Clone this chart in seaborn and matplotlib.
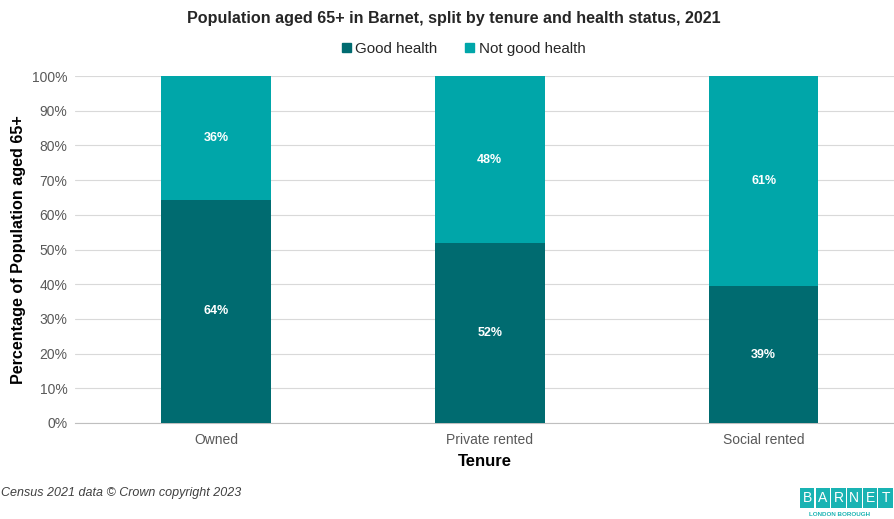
import numpy as np
import pandas as pd
import matplotlib
matplotlib.use("Agg")
import matplotlib.pyplot as plt
import seaborn as sns
from matplotlib.patches import Patch, Rectangle

tenure = ["Owned", "Private rented", "Social rented"]
good_health = [64.4, 51.8, 39.4]
not_good_health = [35.6, 48.2, 60.6]

dark_teal = "#006B70"
light_teal = "#00A6A9"

sns.set_style("white")
plt.rcParams['font.family'] = ['Liberation Sans', 'DejaVu Sans']

df = pd.DataFrame({'tenure': tenure, 'good': good_health, 'not_good': not_good_health})
df['total'] = df['good'] + df['not_good']

fig = plt.figure(figsize=(8.95, 5.19), dpi=100)
ax = fig.add_axes([75 / 895, 1 - 423 / 519, 820 / 895, 347 / 519])

sns.barplot(data=df, x='tenure', y='total', color=light_teal, width=0.40,
            saturation=1, linewidth=0, ax=ax, zorder=2)
sns.barplot(data=df, x='tenure', y='good', color=dark_teal, width=0.40,
            saturation=1, linewidth=0, ax=ax, zorder=3)

for i, (g, n) in enumerate(zip(good_health, not_good_health)):
    ax.text(i, g / 2, f'{round(g)}%', ha='center', va='center',
            color='white', fontsize=9, fontweight='bold', zorder=4)
    ax.text(i, g + n / 2, f'{round(n)}%', ha='center', va='center',
            color='white', fontsize=9, fontweight='bold', zorder=4)

ax.set_xlim(-0.515, 2.48)
ax.set_ylim(0, 100)
ax.set_yticks(np.arange(0, 101, 10))
ax.set_yticklabels([f'{v}%' for v in range(0, 101, 10)])
ax.yaxis.grid(True, color='#d9d9d9', linewidth=0.8, zorder=0)
ax.set_axisbelow(True)
for s in ['top', 'right', 'left']:
    ax.spines[s].set_visible(False)
ax.spines['bottom'].set_color('#bfbfbf')
ax.tick_params(axis='both', length=0, labelsize=10, colors='#595959')
ax.tick_params(axis='y', pad=5.5)
ax.tick_params(axis='x', pad=7)

ax.set_xlabel('Tenure', fontsize=12, fontweight='bold', color='black', labelpad=5)
ax.set_ylabel('Percentage of Population aged 65+', fontsize=11.6, fontweight='bold',
              color='black', labelpad=4)

fig.text(0.507, 1 - 18 / 519, 'Population aged 65+ in Barnet, split by tenure and health status, 2021',
         ha='center', va='center', fontsize=11.6, fontweight='bold')

handles = [Patch(color=dark_teal, label='Good health'),
           Patch(color=light_teal, label='Not good health')]
fig.legend(handles=handles, loc='center', bbox_to_anchor=(0.518, 1 - 49 / 519), ncol=2,
           frameon=False, fontsize=10.9, handlelength=0.6, handleheight=0.6,
           handletextpad=0.3, columnspacing=1.8)

fig.text(1 / 895, 1 - 493 / 519, 'Census 2021 data \u00a9 Crown copyright 2023',
         ha='left', va='center', fontsize=9, style='italic', color='#404040')

# Barnet logo
letters = "BARNET"
box_w = 14.5 / 895
box_h = 20 / 519
gap = 1.2 / 895
x0 = 800 / 895
y0 = 1 - 508 / 519
for k, ch in enumerate(letters):
    fig.patches.append(Rectangle((x0 + k * (box_w + gap), y0), box_w, box_h,
                                 transform=fig.transFigure, facecolor='#19b3b3',
                                 edgecolor='none'))
    fig.text(x0 + k * (box_w + gap) + box_w / 2, y0 + box_h / 2, ch,
             ha='center', va='center', color='white', fontsize=10)
fig.text(x0 + 9 / 895, y0 - 6 / 519, 'LONDON BOROUGH', ha='left', va='center',
         fontsize=4.5, color='#19b3b3', fontweight='bold')

fig.savefig('out.png', dpi=100)
